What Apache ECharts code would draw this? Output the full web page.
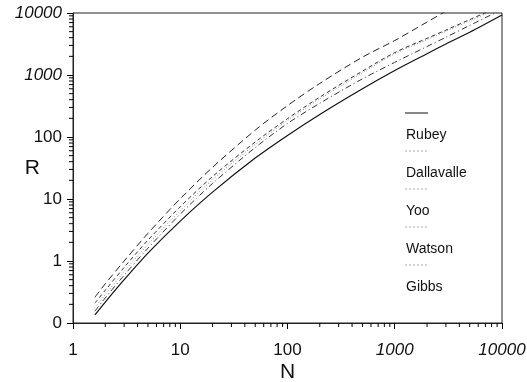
<!DOCTYPE html>
<html>
<head>
<meta charset="utf-8">
<script src="https://cdn.jsdelivr.net/npm/echarts@6/dist/echarts.min.js"></script>
<style>
html, body { margin: 0; padding: 0; background: #fff; }
#chart { width: 527px; height: 382px; }
</style>
</head>
<body>
<div id="chart"></div>
<script>
// N values shared by all curves
const nValues = [1.6, 2, 3, 5, 10, 20, 50, 100, 200, 500, 1000, 2000, 3000, 5000, 10000];

// R (points above 10000 are clipped by the frame)
const rubey      = [0.135, 0.218, 0.50, 1.34, 4.4, 12.9, 45.7, 106, 231, 600, 1183, 2208, 3160, 4900, 9300];
const dallavalle = [0.178, 0.288, 0.676, 1.85, 6.5, 20.5, 75.9, 185, 411, 1090, 2200, 3720, 5070, 7480, 12600];
const yoo        = [0.155, 0.254, 0.59, 1.61, 5.7, 17.8, 67.6, 165, 350, 867, 1600, 2880, 4070, 6300, 11400];
const watson     = [0.209, 0.338, 0.79, 2.17, 7.5, 23, 83, 198, 440, 1156, 2300, 3900, 5300, 7830, 13200];
const gibbs      = [0.26, 0.43, 1.0, 2.8, 10.1, 32.4, 129, 321, 731, 1940, 3600, 7140, 10700];

const seriesNames = ['Rubey', 'Dallavalle', 'Yoo', 'Watson', 'Gibbs'];
const seriesData = [rubey, dallavalle, yoo, watson, gibbs];
const xRange = [1, 10000];
const yRange = [0.1, 10000];

const lineStyles = [
    { type: 'solid', color: '#111', width: 1.2 },
    { type: [1, 2], color: '#888', width: 1 },
    { type: [6, 3, 1, 3], color: '#333', width: 1 },
    { type: [4, 3], color: '#333', width: 1 },
    { type: [7, 4], color: '#222', width: 1 }
];

const labelFont = 'Liberation Sans';

function tickLabel(v) {
    if (v < 1) return '0';
    if (v >= 1000) return '{i|' + v + '}';
    return String(v);
}

// 2..9 inside every decade of a range
function minorValues(range) {
    let out = [];
    for (let d = range[0]; d < range[1] * 0.999; d *= 10) {
        for (let k = 2; k <= 9; k++) out.push(k * d);
    }
    return out;
}

const chart = echarts.init(document.getElementById('chart'));

// legend drawn by hand: short sample above each name
let legendItems = [];
seriesNames.forEach((name, i) => {
    let y0 = 113 + i * 38;
    legendItems.push({
        type: 'line',
        shape: { x1: 405, y1: y0, x2: 428, y2: y0 },
        style: {
            stroke: i === 0 ? '#111' : '#aaa',
            lineWidth: 1,
            lineDash: i === 0 ? null : [2, 2]
        }
    });
    legendItems.push({
        type: 'text',
        x: 406,
        y: y0 + 22,
        style: {
            text: name,
            font: '14px ' + labelFont,
            fill: '#111',
            verticalAlign: 'middle'
        }
    });
});

let richItalic = { i: { fontSize: 17, fontStyle: 'italic', color: '#111', fontFamily: labelFont } };

let lineSeries = seriesNames.map((name, i) => ({
    name: name,
    type: 'line',
    showSymbol: false,
    smooth: 0.3,
    clip: true,
    lineStyle: lineStyles[i],
    data: seriesData[i].map((r, j) => [nValues[j], r])
}));

// minor ticks, positioned through the axis scales
function minorTicks(data, horizontal) {
    return {
        type: 'custom',
        silent: true,
        clip: false,
        z: 5,
        data: data,
        renderItem: function (params, api) {
            let p = api.coord([api.value(0), api.value(1)]);
            let shape = horizontal
                ? { x1: p[0], y1: p[1], x2: p[0], y2: p[1] + 4 }
                : { x1: p[0] - 4, y1: p[1], x2: p[0], y2: p[1] };
            return { type: 'line', shape: shape, style: { stroke: '#000', lineWidth: 1 } };
        }
    };
}

let option = {
    backgroundColor: '#fff',
    animation: false,
    grid: {
        left: 73, right: 25, top: 13, bottom: 59,
        outerBoundsMode: 'none',
        show: true, borderColor: '#222', borderWidth: 1
    },
    xAxis: {
        type: 'log',
        logBase: 10,
        min: xRange[0],
        max: xRange[1],
        name: 'N',
        nameLocation: 'middle',
        nameGap: 39,
        nameMoveOverlap: false,
        nameTextStyle: { fontSize: 21, color: '#111', fontFamily: labelFont },
        axisLine: { lineStyle: { color: '#222', width: 1 } },
        axisTick: { show: true, length: 6, lineStyle: { color: '#000' } },
        splitLine: { show: false },
        axisLabel: {
            margin: 19,
            fontSize: 17,
            color: '#111',
            fontFamily: labelFont,
            formatter: tickLabel,
            rich: richItalic
        }
    },
    yAxis: {
        type: 'log',
        logBase: 10,
        min: yRange[0],
        max: yRange[1],
        name: 'R',
        nameLocation: 'middle',
        nameRotate: 0,
        nameGap: 33,
        nameMoveOverlap: false,
        nameTextStyle: { fontSize: 21, color: '#111', fontFamily: labelFont },
        axisLine: { show: true, lineStyle: { color: '#222', width: 1 } },
        axisTick: { show: true, length: 6, lineStyle: { color: '#000' } },
        splitLine: { show: false },
        axisLabel: {
            margin: 11,
            fontSize: 17,
            color: '#111',
            fontFamily: labelFont,
            formatter: tickLabel,
            rich: richItalic
        }
    },
    graphic: legendItems,
    series: lineSeries.concat([
        minorTicks(minorValues(xRange).map(v => [v, yRange[0]]), true),
        minorTicks(minorValues(yRange).map(v => [xRange[0], v]), false)
    ])
};

chart.setOption(option);
</script>
</body>
</html>
